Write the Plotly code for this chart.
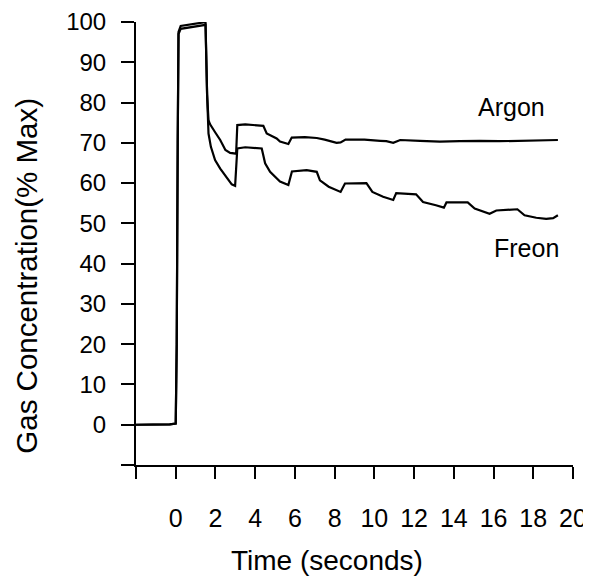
import plotly.graph_objects as go

# ---- data ----
argon_t = [-2.0, -1.0, -0.3, 0.0, 0.05, 0.10, 0.14, 0.25, 0.8, 1.4, 1.50, 1.58, 1.65, 1.73,
           2.0, 2.24, 2.5, 2.74, 3.04, 3.1, 3.5, 4.0, 4.41, 4.58, 5.08, 5.25, 5.67, 5.84,
           6.5, 7.1, 7.5, 8.1, 8.3, 8.55, 9.5, 10.3, 10.6, 10.95, 11.3, 12.3, 13.3,
           14.3, 15.3, 16.3, 17.3, 18.3, 19.24]
argon_v = [0.0, 0.0, 0.1, 0.3, 20.0, 70.0, 97.5, 99.0, 99.5, 99.9, 99.9, 82.0, 75.6, 74.6,
           72.5, 70.7, 68.2, 67.5, 67.3, 74.4, 74.6, 74.3, 74.2, 72.3, 71.1, 70.3, 69.7, 71.3,
           71.4, 71.2, 70.8, 70.0, 70.1, 70.8, 70.8, 70.5, 70.4, 70.0, 70.7, 70.5, 70.3,
           70.4, 70.5, 70.4, 70.5, 70.6, 70.7]

freon_t = [-2.0, -1.0, -0.3, 0.0, 0.05, 0.10, 0.14, 0.25, 0.8, 1.4, 1.50, 1.58, 1.65, 1.77,
           1.98, 2.24, 2.57, 2.82, 2.99, 3.1, 3.5, 4.0, 4.33, 4.5, 4.75, 5.25, 5.67, 5.85,
           6.59, 7.1, 7.26, 7.7, 8.3, 8.52, 9.6, 9.9, 10.44, 10.95, 11.1, 12.1, 12.45,
           13.1, 13.5, 13.63, 14.7, 15.05, 15.8, 16.14, 17.2, 17.56, 18.15, 18.65, 19.0, 19.24]
freon_v = [0.0, 0.0, 0.1, 0.3, 20.0, 70.0, 97.0, 98.3, 98.8, 99.3, 99.3, 82.0, 72.3, 69.0,
           65.7, 63.6, 61.5, 59.7, 59.3, 68.6, 68.9, 68.7, 68.6, 64.9, 62.8, 60.4, 59.5, 62.9,
           63.2, 62.8, 60.7, 59.1, 57.8, 59.9, 60.0, 57.8, 56.6, 55.8, 57.5, 57.2, 55.3,
           54.5, 53.9, 55.2, 55.2, 53.7, 52.4, 53.2, 53.5, 52.0, 51.4, 51.1, 51.3, 52.0]

x_tickvals = [-2, 0, 2, 4, 6, 8, 10, 12, 14, 16, 18, 20]
x_ticktext = ["", "0", "2", "4", "6", "8", "10", "12", "14", "16", "18", "20"]
y_tickvals = [-10, 0, 10, 20, 30, 40, 50, 60, 70, 80, 90, 100]
y_ticktext = ["", "0", "10", "20", "30", "40", "50", "60", "70", "80", "90", "100"]

series_labels = [("Argon", 16.9, 79.0), ("Freon", 17.66, 43.8)]

FONT = "Liberation Sans, Arial, Helvetica, sans-serif"

# the page body has an 8px default margin, so the figure is shrunk by that much
PAGE_OFFSET = 8

fig = go.Figure()
fig.add_trace(go.Scatter(x=argon_t, y=argon_v, mode="lines", name="Argon",
                         line=dict(color="black", width=2.2), showlegend=False))
fig.add_trace(go.Scatter(x=freon_t, y=freon_v, mode="lines", name="Freon",
                         line=dict(color="black", width=2.2), showlegend=False))

for txt, tx, ty in series_labels:
    fig.add_annotation(x=tx, y=ty, text=txt, showarrow=False, xref="x", yref="y",
                       xanchor="center", yanchor="middle",
                       font=dict(family=FONT, size=25, color="black"))

fig.add_annotation(x=0.437, y=-0.2145, xref="paper", yref="paper", text="Time (seconds)",
                   showarrow=False, xanchor="center", yanchor="middle",
                   font=dict(family=FONT, size=28, color="black"))
fig.add_annotation(x=-0.2524, y=0.4266, xref="paper", yref="paper",
                   text="Gas Concentration(% Max)", textangle=-90,
                   showarrow=False, xanchor="center", yanchor="middle",
                   font=dict(family=FONT, size=29.5, color="black"))

fig.update_layout(
    width=591 - PAGE_OFFSET, height=578 - PAGE_OFFSET,
    margin=dict(l=135.5 - PAGE_OFFSET, r=17.7, t=22 - PAGE_OFFSET, b=113),
    paper_bgcolor="white", plot_bgcolor="white",
    font=dict(family=FONT, color="black"),
    xaxis=dict(range=[-2, 20], tickvals=x_tickvals, ticktext=x_ticktext,
               showgrid=False, zeroline=False, showline=True, linecolor="black",
               linewidth=2, ticks="outside", ticklen=12, tickwidth=1.5,
               tickcolor="black", ticklabelstandoff=18, automargin=False,
               tickfont=dict(family=FONT, size=25, color="black")),
    yaxis=dict(range=[-10, 100], tickvals=y_tickvals, ticktext=y_ticktext,
               showgrid=False, zeroline=False, showline=True, linecolor="black",
               linewidth=2, ticks="outside", ticklen=13, tickwidth=1.5,
               tickcolor="black", ticklabelstandoff=10, automargin=False,
               tickfont=dict(family=FONT, size=24, color="black")),
)

fig.write_html("out.html")
